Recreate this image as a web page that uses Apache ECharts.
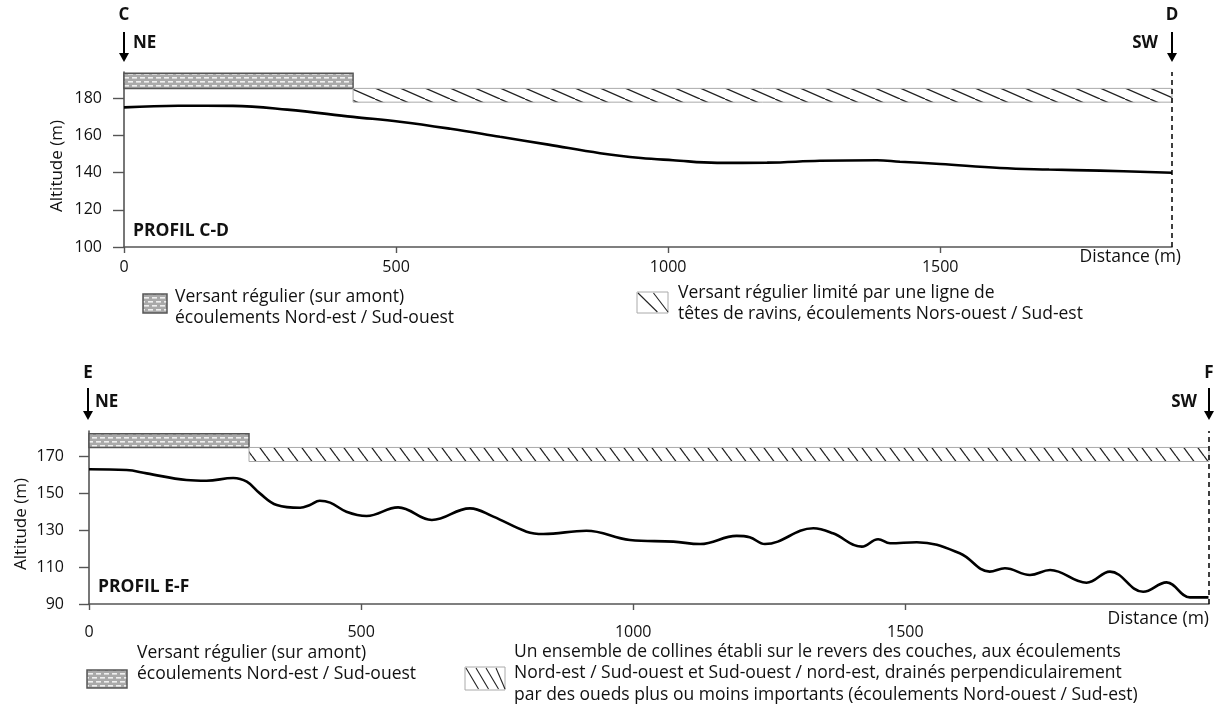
<!DOCTYPE html>
<html>
<head>
<meta charset="utf-8">
<script src="https://cdn.jsdelivr.net/npm/echarts@6/dist/echarts.min.js"></script>
<style>
html,body{margin:0;padding:0;background:#fff;}
#chart{width:1228px;height:715px;}
</style>
</head>
<body>
<div id="chart"></div>
<script>
// ---------------- DATA ----------------
// Profil C-D
const cdDistance = [0, 100, 200, 300, 421, 507, 600, 691, 780, 875, 950, 1009, 1090, 1182, 1279, 1384, 1426, 1500, 1610, 1700, 1794, 1926];
const cdAltitude = [175, 175.9, 175.8, 173.8, 169.9, 167.3, 163.5, 159.2, 155, 150.4, 147.8, 146.6, 145.2, 145.3, 146.3, 146.6, 145.8, 144.6, 142.4, 141.6, 141, 139.9];
const cdXMax = 1926;
const cdYMin = 100, cdYMax = 194;
const cdXTicks = [0, 500, 1000, 1500];
const cdYTicks = [100, 120, 140, 160, 180];
// bands: [start, end, bottom, top]
const cdStippleBand = [[0, 421, 185.2, 193.3]];
const cdHatchBand = [[421, 1926, 177.8, 185.2]];

// Profil E-F
const efDistance = [0, 69, 106, 179, 216, 265, 290, 314, 345, 388, 406, 424, 443, 473, 510, 568, 630, 700, 743, 804, 835, 914, 994, 1074, 1123, 1190, 1214, 1242, 1331, 1367, 1420, 1450, 1472, 1521, 1600, 1655, 1683, 1729, 1766, 1833, 1876, 1937, 1980, 2023, 2057];
const efAltitude = [162.8, 162.4, 160.6, 157, 156.6, 158.1, 156.1, 149.8, 143.5, 142, 143.5, 145.8, 144.8, 139.9, 137.6, 142.2, 135.4, 141.7, 137.2, 129.1, 127.8, 129.6, 124.6, 123.7, 122.4, 126.8, 126.1, 122.4, 130.9, 128.2, 121, 125, 122.8, 123.4, 117.4, 107.5, 109.3, 105.7, 108.4, 101.5, 107.5, 96.6, 101.7, 93.6, 93.6];
const efXMax = 2058;
const efYMin = 90, efYMax = 183.5;
const efXTicks = [0, 500, 1000, 1500];
const efYTicks = [90, 110, 130, 150, 170];
const efStippleBand = [[0, 294, 174.6, 182]];
const efHatchBand = [[294, 2058, 167, 174.6]];

// Texts
const cdLegendStipple = ['Versant régulier (sur amont)', 'écoulements Nord-est / Sud-ouest'];
const cdLegendHatch = ['Versant régulier limité par une ligne de', 'têtes de ravins, écoulements Nors-ouest / Sud-est'];
const efLegendStipple = ['Versant régulier (sur amont)', 'écoulements Nord-est / Sud-ouest'];
const efLegendHatch = ['Un ensemble de collines établi sur le revers des couches, aux écoulements',
  'Nord-est / Sud-ouest et Sud-ouest / nord-est, drainés perpendiculairement',
  'par des oueds plus ou moins importants (écoulements Nord-ouest / Sud-est)'];

// ---------------- PATTERNS ----------------
function makeStipple() {
  const c = document.createElement('canvas');
  c.width = 8; c.height = 8;
  const g = c.getContext('2d');
  g.fillStyle = '#a9a9a9'; g.fillRect(0, 0, 8, 8);
  g.fillStyle = '#f0f0f0';
  g.fillRect(0, 1, 5, 1.6);
  g.fillRect(4, 5, 5, 1.6);
  g.fillRect(-4, 5, 5, 1.6);
  return c;
}
function makeHatch(W, H, lw, color) {
  const c = document.createElement('canvas');
  c.width = W; c.height = H;
  const g = c.getContext('2d');
  g.fillStyle = '#fff'; g.fillRect(0, 0, W, H);
  g.strokeStyle = color; g.lineWidth = lw;
  for (let k = -1; k <= 1; k++) {
    g.beginPath(); g.moveTo(k * W, 0); g.lineTo(k * W + W, H); g.stroke();
  }
  return c;
}
const stipplePat = { image: makeStipple(), repeat: 'repeat' };
const hatchTop = { image: makeHatch(25, 11, 1.3, '#222'), repeat: 'repeat' };
const hatchBot = { image: makeHatch(14, 19, 1.3, '#222'), repeat: 'repeat' };

// ---------------- HELPERS ----------------
const FONT = '"Open Sans", "Noto Sans", sans-serif';
const LEG = 17.5;
function pairs(xs, ys) { return xs.map((x, i) => [x, ys[i]]); }
function bandRender(fill, stroke, lw) {
  return function (params, api) {
    const p0 = api.coord([api.value(0), api.value(3)]);
    const p1 = api.coord([api.value(1), api.value(2)]);
    return {
      type: 'rect',
      shape: { x: p0[0], y: p0[1], width: p1[0] - p0[0], height: p1[1] - p0[1] },
      style: { fill: fill, stroke: stroke, lineWidth: lw }
    };
  };
}
function txt(x, y, text, size, bold, align, extra) {
  return Object.assign({
    type: 'text', x: x, y: y, silent: true,
    style: { text: text, fontSize: size, fontFamily: FONT, fontWeight: bold ? 'bold' : 'normal',
      fill: '#111', align: align || 'left', verticalAlign: 'middle' }
  }, extra || {});
}
function arrow(x, y1, y2) {
  return {
    type: 'group', silent: true, children: [
      { type: 'line', shape: { x1: x, y1: y1, x2: x, y2: y2 - 6 }, style: { stroke: '#000', lineWidth: 2 } },
      { type: 'polygon', shape: { points: [[x - 5, y2 - 9], [x + 5, y2 - 9], [x, y2]] }, style: { fill: '#000' } }
    ]
  };
}
function hatchSwatch(x, y, w, h, n) {
  const ch = [{ type: 'rect', shape: { x: x, y: y, width: w, height: h }, style: { fill: '#fff', stroke: '#aaa', lineWidth: 1 } }];
  const step = w / n;
  for (let i = 0; i < n; i++) {
    const x0 = x + i * step + 1;
    ch.push({ type: 'line', shape: { x1: x0, y1: y + 1, x2: Math.min(x0 + step * 1.25, x + w), y2: y + h - 1 }, style: { stroke: '#222', lineWidth: 1.1 } });
  }
  return { type: 'group', silent: true, children: ch };
}
function stippleSwatch(x, y, w, h) {
  return { type: 'rect', silent: true, shape: { x: x, y: y, width: w, height: h }, style: { fill: stipplePat, stroke: '#555', lineWidth: 1.5 } };
}

const axisCol = '#555';
function xAxisCfg(gi, max, ticks, margin) {
  return {
    type: 'value', gridIndex: gi, min: 0, max: max, interval: 500,
    axisLine: { show: true, lineStyle: { color: axisCol, width: 1.6 } },
    axisTick: { show: true, length: 6, lineStyle: { color: axisCol, width: 1.4 }, customValues: ticks },
    axisLabel: { customValues: ticks, margin: margin, fontSize: 16, fontFamily: FONT, color: '#111',
      formatter: function (v) { return String(v); } },
    splitLine: { show: false }
  };
}
function yAxisCfg(gi, min, max, ticks, margin, tickLen) {
  return {
    type: 'value', gridIndex: gi, min: min, max: max, interval: 20,
    axisLine: { show: true, onZero: false, lineStyle: { color: axisCol, width: 1.6 } },
    axisTick: { show: true, length: tickLen, lineStyle: { color: axisCol, width: 1.4 }, customValues: ticks },
    axisLabel: { customValues: ticks, margin: margin, fontSize: 16, fontFamily: FONT, color: '#111',
      formatter: function (v) { return String(v); } },
    splitLine: { show: false }
  };
}
function markLineAt(x) {
  return {
    silent: true, symbol: ['none', 'none'], label: { show: false },
    lineStyle: { type: [5, 4], color: '#000', width: 1.5 },
    data: [{ xAxis: x }]
  };
}

// ---------------- CHART ----------------
const chart = echarts.init(document.getElementById('chart'), null, { renderer: 'canvas' });
const option = {
  animation: false,
  backgroundColor: '#fff',
  grid: [
    { left: 124, top: 72, width: 1048, height: 175 },
    { left: 89, top: 431, width: 1120, height: 173 }
  ],
  xAxis: [xAxisCfg(0, cdXMax, cdXTicks, 12), xAxisCfg(1, efXMax, efXTicks, 20)],
  yAxis: [yAxisCfg(0, cdYMin, cdYMax, cdYTicks, 22, 11), yAxisCfg(1, efYMin, efYMax, efYTicks, 25, 10)],
  series: [
    { type: 'custom', xAxisIndex: 0, yAxisIndex: 0, encode: { x: [0, 1], y: [2, 3] }, data: cdStippleBand, renderItem: bandRender(stipplePat, '#555', 1.5), silent: true },
    { type: 'custom', xAxisIndex: 0, yAxisIndex: 0, encode: { x: [0, 1], y: [2, 3] }, data: cdHatchBand, renderItem: bandRender(hatchTop, '#aaa', 1), silent: true },
    { type: 'line', xAxisIndex: 0, yAxisIndex: 0, data: pairs(cdDistance, cdAltitude), showSymbol: false, smooth: 0.4,
      lineStyle: { color: '#000', width: 2.6 }, markLine: markLineAt(cdXMax) },
    { type: 'custom', xAxisIndex: 1, yAxisIndex: 1, encode: { x: [0, 1], y: [2, 3] }, data: efStippleBand, renderItem: bandRender(stipplePat, '#555', 1.5), silent: true },
    { type: 'custom', xAxisIndex: 1, yAxisIndex: 1, encode: { x: [0, 1], y: [2, 3] }, data: efHatchBand, renderItem: bandRender(hatchBot, '#aaa', 1), silent: true },
    { type: 'line', xAxisIndex: 1, yAxisIndex: 1, data: pairs(efDistance, efAltitude), showSymbol: false, smooth: 0.4,
      lineStyle: { color: '#000', width: 2.6 }, markLine: markLineAt(efXMax) }
  ],
  graphic: [
    // top header
    txt(124, 15, 'C', 17, true, 'center'),
    arrow(124, 32, 62),
    txt(133, 43, 'NE', 17, true, 'left'),
    txt(1172, 15, 'D', 17, true, 'center'),
    arrow(1172, 32, 62),
    txt(1158, 43, 'SW', 17, true, 'right'),
    txt(57, 166, 'Altitude (m)', 17, false, 'center', { rotation: Math.PI / 2 }),
    txt(133, 231, 'PROFIL C-D', 17.5, true, 'left'),
    txt(1181, 257, 'Distance (m)', 17.5, false, 'right'),
    // top legend
    stippleSwatch(143, 294, 24, 19),
    txt(175, 297, cdLegendStipple[0], LEG, false, 'left'),
    txt(175, 318, cdLegendStipple[1], LEG, false, 'left'),
    hatchSwatch(637, 292, 31, 21, 2),
    txt(678, 293, cdLegendHatch[0], LEG, false, 'left'),
    txt(678, 314, cdLegendHatch[1], LEG, false, 'left'),
    // bottom header
    txt(88, 373, 'E', 17, true, 'center'),
    arrow(88, 388, 420),
    txt(95, 402, 'NE', 17, true, 'left'),
    txt(1209, 373, 'F', 17, true, 'center'),
    arrow(1209, 388, 420),
    txt(1197, 402, 'SW', 17, true, 'right'),
    txt(21, 524, 'Altitude (m)', 17, false, 'center', { rotation: Math.PI / 2 }),
    txt(98, 587, 'PROFIL E-F', 17.5, true, 'left'),
    txt(1209, 619, 'Distance (m)', 17.5, false, 'right'),
    // bottom legend
    stippleSwatch(87, 670, 40, 18),
    txt(137, 653, efLegendStipple[0], LEG, false, 'left'),
    txt(137, 674, efLegendStipple[1], LEG, false, 'left'),
    hatchSwatch(465, 667, 40, 23, 4),
    txt(514, 652, efLegendHatch[0], LEG, false, 'left'),
    txt(514, 673, efLegendHatch[1], LEG, false, 'left'),
    txt(514, 695, efLegendHatch[2], LEG, false, 'left')
  ]
};
chart.setOption(option);
</script>
</body>
</html>
